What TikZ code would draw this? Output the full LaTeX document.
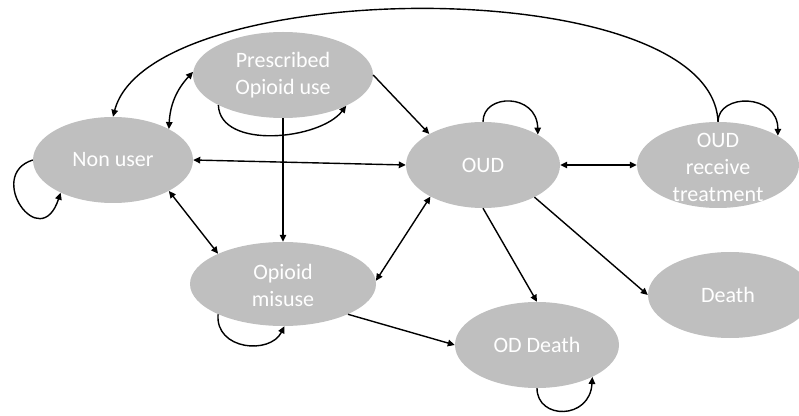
\documentclass[tikz,border=0pt]{standalone}
\usepackage{fontspec}
\setmainfont{Carlito}
\usetikzlibrary{shapes.geometric,arrows.meta}
\definecolor{stgray}{HTML}{BFBFBF}
\tikzset{
  st/.style={ellipse, fill=stgray, draw=none, inner sep=0pt},
  lbl/.style={text=white, align=center, font=\fontsize{22}{27}\selectfont, inner sep=0pt},
  con/.style={line width=1.4pt, draw=black},
  >={Triangle[length=7pt,width=6.5pt]}
}
\begin{document}
\begin{tikzpicture}[x=1pt,y=1pt]
\useasboundingbox (0,0) rectangle (799,415);
% states
\node[st, minimum width=160, minimum height=86] (nonuser) at (113,255) {};
\node[st, minimum width=180, minimum height=86] (presc) at (283,340) {};
\node[st, minimum width=154, minimum height=86] (oud) at (483,250) {};
\node[st, minimum width=162, minimum height=86] (treat) at (718,250) {};
\node[st, minimum width=186, minimum height=84] (misuse) at (283,131) {};
\node[st, minimum width=164, minimum height=86] (oddeath) at (537,70) {};
\node[st, minimum width=164, minimum height=86] (death) at (730,120) {};
% labels
\node[lbl] (t-nonuser) at (nonuser) {Non user};
\node[lbl] (t-presc) at (presc) {Prescribed\\Opioid use};
\node[lbl] (t-oud) at (oud) {OUD};
\node[lbl] (t-treat) at (718,248) {OUD\\receive\\treatment};
\node[lbl] (t-misuse) at (283,130) {Opioid\\misuse};
\node[lbl] (t-oddeath) at (oddeath) {OD Death};
\node[lbl] (t-death) at (728,120) {Death};
% connectors
\draw[con,->] (treat.90) .. controls (712,445) and (150,440) .. (nonuser.90);
\draw[con,<->] (nonuser.29) to[bend left=20] (presc.178);
\draw[con,->] (presc.205) .. controls (220,265) and (320,275) .. (presc.334);
\draw[con,->] (presc.0) -- (oud.150);
\draw[con,->] (presc.270) -- (misuse.90);
\draw[con,<->] (nonuser.0) -- (oud.180);
\draw[con,->] (nonuser.180) .. controls (-15,240) and (40,160) .. (nonuser.212);
\draw[con,<->] (nonuser.331) -- (misuse.155);
\draw[con,<->] (misuse.2) -- (oud.211);
\draw[con,->] (misuse.205) .. controls (215,65) and (270,60) .. (misuse.272);
\draw[con,->] (misuse.335) -- (oddeath.180);
\draw[con,->] (oud.270) -- (oddeath.90);
\draw[con,->] (oud.328) -- (death.180);
\draw[con,->] (oud.90) .. controls (483,322) and (537,322) .. (oud.29);
\draw[con,<->] (oud.0) -- (treat.180);
\draw[con,->] (treat.90) .. controls (718,322) and (778,322) .. (treat.26);
\draw[con,->] (oddeath.270) .. controls (537,-5) and (590,-5) .. (oddeath.330);
\end{tikzpicture}
\end{document}
